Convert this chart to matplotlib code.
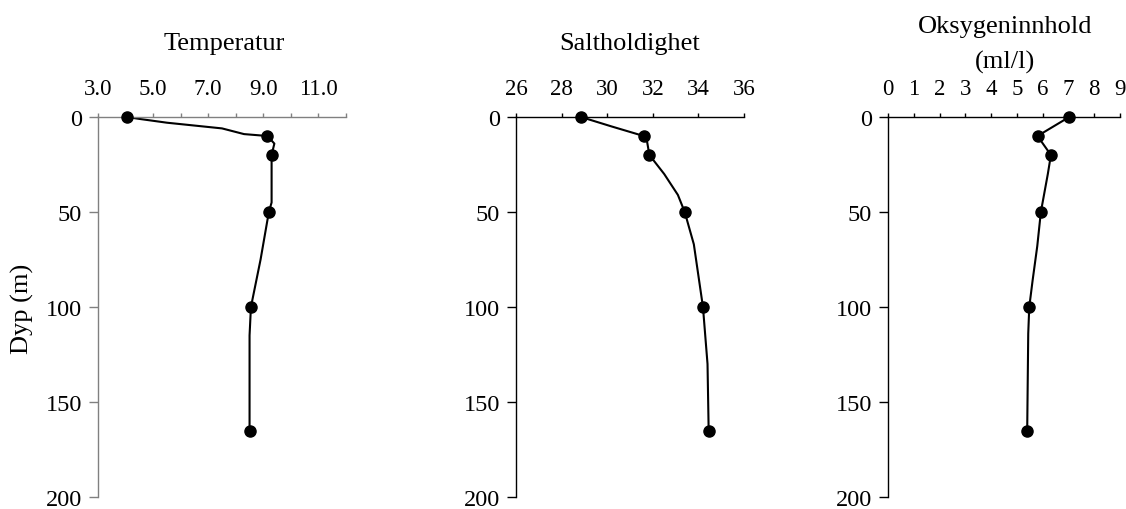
import matplotlib
matplotlib.use("Agg")
import matplotlib.pyplot as plt

plt.rcParams['font.family'] = ['Liberation Serif', 'DejaVu Serif']

# Sample depths (markers)
depth = [0, 10, 20, 50, 100, 165]
temp = [4.05, 9.15, 9.3, 9.2, 8.55, 8.5]
salt = [28.85, 31.6, 31.85, 33.4, 34.2, 34.45]
oxy = [7.03, 5.8, 6.32, 5.93, 5.48, 5.4]

# Profile lines
temp_line_depth = [0, 1, 3, 6, 9, 10, 14, 20, 30, 45, 50, 75, 100, 115, 165]
temp_line = [4.05, 4.5, 5.5, 7.5, 8.3, 9.15, 9.4, 9.3, 9.3, 9.3, 9.2, 8.9, 8.55, 8.5, 8.5]
salt_line_depth = [0, 5, 10, 13, 20, 30, 41, 50, 67, 100, 130, 165]
salt_line = [28.85, 30.2, 31.6, 31.75, 31.85, 32.5, 33.1, 33.4, 33.8, 34.2, 34.4, 34.45]
oxy_line_depth = [0, 10, 20, 30, 50, 68, 86, 100, 114, 165]
oxy_line = [7.03, 5.8, 6.32, 6.2, 5.93, 5.79, 5.61, 5.48, 5.44, 5.4]

titles = ["Temperatur", "Saltholdighet", "Oksygeninnhold\n(ml/l)"]
temp_ticks = [3, 4, 5, 6, 7, 8, 9, 10, 11, 12]
temp_labels = ["3.0", "", "5.0", "", "7.0", "", "9.0", "", "11.0", ""]
salt_ticks = [26, 28, 30, 32, 34, 36]
salt_labels = ["26", "28", "30", "32", "34", "36"]
oxy_ticks = [0, 1, 2, 3, 4, 5, 6, 7, 8, 9]
oxy_labels = [str(v) for v in oxy_ticks]
depth_ticks = [0, 50, 100, 150, 200]
depth_labels = ["0", "50", "100", "150", "200"]

W, H = 1126, 510
fig = plt.figure(figsize=(W / 100, H / 100), dpi=100)

top_px, bot_px = 118, 498
panels = [
    (98, 346, temp_ticks, temp_labels, temp, temp_line, temp_line_depth, '#808080', 224),
    (516, 744, salt_ticks, salt_labels, salt, salt_line, salt_line_depth, 'black', 630),
    (888, 1120, oxy_ticks, oxy_labels, oxy, oxy_line, oxy_line_depth, 'black', 1005),
]

for i, (x0, x1, ticks, labels, vals, lvals, ldepth, acol, tx) in enumerate(panels):
    ax = fig.add_axes([x0 / W, 1 - bot_px / H, (x1 - x0) / W, (bot_px - top_px) / H])
    ax.plot(lvals, ldepth, color='black', lw=1.5, zorder=2, clip_on=False,
            solid_joinstyle='round')
    ax.plot(vals, depth, 'o', color='black', ms=8, zorder=3, clip_on=False)
    ax.set_xlim(ticks[0], ticks[-1])
    ax.set_ylim(200, 0)
    ax.xaxis.set_ticks_position('top')
    ax.xaxis.set_label_position('top')
    ax.set_xticks(ticks)
    ax.set_xticklabels(labels)
    ax.set_yticks(depth_ticks)
    ax.set_yticklabels(depth_labels)
    for s in ['right', 'bottom']:
        ax.spines[s].set_visible(False)
    for s in ['left', 'top']:
        ax.spines[s].set_color(acol)
        ax.spines[s].set_linewidth(1.0)
    ax.tick_params(axis='x', direction='out', length=3, width=1.0, color=acol,
                   labelsize=16.5, pad=10)
    ax.tick_params(axis='y', direction='out', length=6.5, width=1.0, color=acol,
                   labelsize=17.5, pad=5)
    ax.set_facecolor('none')
    if i == 2:
        fig.text(tx / W, 1 - 33 / H, "Oksygeninnhold", ha='center', va='baseline', fontsize=19)
        fig.text(tx / W, 1 - 69 / H, "(ml/l)", ha='center', va='baseline', fontsize=19)
    else:
        fig.text(tx / W, 1 - 50 / H, titles[i], ha='center', va='baseline', fontsize=19)

fig.text(22 / W, 1 - 309 / H, "Dyp (m)", rotation=90, ha='center', va='center', fontsize=19)

fig.savefig("out.png", dpi=100)
